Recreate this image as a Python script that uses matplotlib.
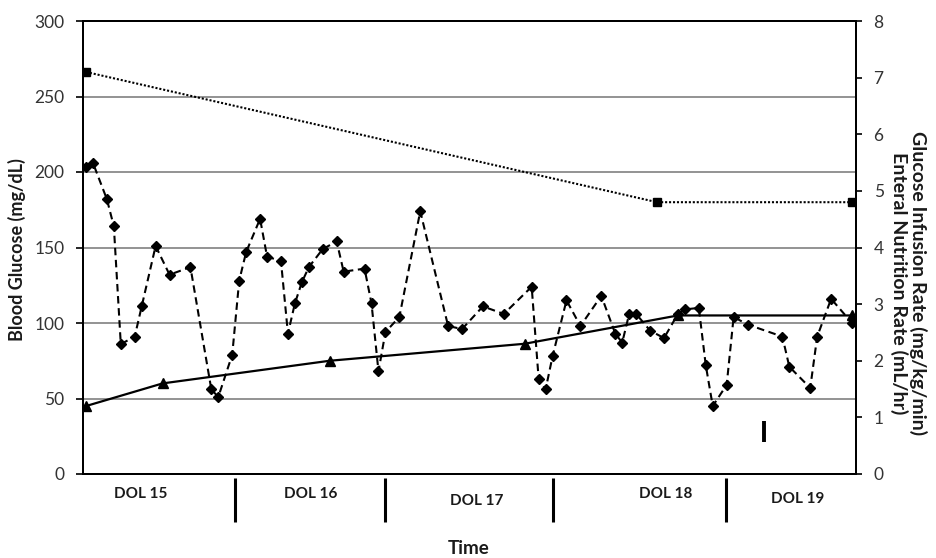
import matplotlib
matplotlib.use("Agg")
import matplotlib.pyplot as plt
import matplotlib.transforms as mtransforms

# ---------------- data ----------------
# sample (category) index along the time axis, 111 categories (0..110)
n_categories = 111
glucose_idx = [0, 1, 3, 4, 5, 7, 8, 10, 12, 15, 18, 19, 21, 22, 23, 25, 26, 28, 29, 30,
               31, 32, 34, 36, 37, 40, 41, 42, 43, 45, 48, 52, 54, 57, 60, 64, 65, 66, 67, 69,
               71, 74, 76, 77, 78, 79, 81, 83, 85, 86, 88, 89, 90, 92, 93, 95, 100, 101, 104, 105,
               107, 110]
glucose_val = [203, 206, 182, 164, 86, 91, 111, 151, 132, 137, 56, 51, 79, 128, 147, 169, 144, 141, 93, 113,
               127, 137, 149, 154, 134, 136, 113, 68, 94, 104, 174, 98, 96, 111, 106, 124, 63, 56, 78, 115,
               98, 118, 93, 87, 106, 106, 95, 90, 106, 109, 110, 72, 45, 59, 104, 99, 91, 71, 57, 91,
               116, 100]

enteral_idx = [0, 11, 35, 63, 85, 110]
enteral_val = [1.2, 1.6, 2.0, 2.3, 2.8, 2.8]

gir_idx = [0, 82, 110]
gir_val = [7.1, 4.8, 4.8]

day_labels = ["DOL 15", "DOL 16", "DOL 17", "DOL 18", "DOL 19"]
day_label_center = [7.8, 32.2, 56.1, 83.2, 102.2]
day_label_drop = [0.0, 0.0, 0.016, 0.0, 0.012]
day_boundaries = [21.4, 43.0, 67.1, 91.9]

stray_mark_x = 97.3
stray_mark_y = [21.5, 35.3]

left_ticks = [0, 50, 100, 150, 200, 250, 300]
right_ticks = [0, 1, 2, 3, 4, 5, 6, 7, 8]

# ---------------- style ----------------
FONT = ["Lato", "DejaVu Sans"]
plt.rcParams["font.family"] = FONT
TICK_COLOR = "#333333"
W, H = 936, 558

fig = plt.figure(figsize=(9.36, 5.58), dpi=100)
ax = fig.add_axes([82.5 / W, 1 - 474 / H, (855.5 - 82.5) / W, (474 - 21) / H])
ax2 = ax.twinx()

ax.set_xlim(-0.5, n_categories - 0.5)
ax.set_ylim(0, 300)
ax2.set_ylim(0, 8)

ax.set_yticks(left_ticks)
ax2.set_yticks(right_ticks)
ax.set_xticks([])

for a in (ax, ax2):
    for s in a.spines.values():
        s.set_color("black")
        s.set_linewidth(1.4)

ax.tick_params(axis="y", direction="out", length=5, width=1.2, pad=8,
               labelsize=12.5, labelcolor=TICK_COLOR)
ax2.tick_params(axis="y", direction="out", length=4, width=1.2, pad=9,
                labelsize=12.5, labelcolor=TICK_COLOR)

ax.set_axisbelow(True)
ax.yaxis.grid(True, color="#8a8a8a", linewidth=1.3)

# Blood glucose (dashed, diamonds)
ax.plot(glucose_idx, glucose_val, color="black", linewidth=1.5, linestyle=(0, (3.6, 2.2)),
        marker="D", markersize=5.2, zorder=4)

# Enteral nutrition (solid, triangles)
ax2.plot(enteral_idx, enteral_val, color="black", linewidth=1.6, linestyle="-",
         marker="^", markersize=6.5, zorder=4)

# Glucose infusion rate (dotted, square markers)
ax2.plot(gir_idx, gir_val, color="black", linewidth=1.5, linestyle=(0, (1, 0.9)),
         marker="s", markersize=5.5, zorder=4)

# stray vertical mark inside plot area
ax.plot([stray_mark_x, stray_mark_x], stray_mark_y, color="black", linewidth=2.8,
        solid_capstyle="butt", zorder=3)

# Day separators and labels beneath axis
trans = mtransforms.blended_transform_factory(ax.transData, ax.transAxes)
for b in day_boundaries:
    ax.plot([b, b], [-0.009, -0.106], transform=trans, color="black", linewidth=2.2,
            clip_on=False, solid_capstyle="butt")
for lab, c, d in zip(day_labels, day_label_center, day_label_drop):
    ax.text(c, -0.044 - d, lab, transform=trans, ha="center", va="center",
            fontsize=11, fontweight="bold", color="#1a1a1a")

# Axis titles
fig.text(469 / W, 1 - 548 / H, "Time", ha="center", va="center",
         fontsize=13.5, fontweight="bold", color="#1a1a1a")
fig.text(17 / W, 1 - 250 / H, "Blood Glucose (mg/dL)", ha="center", va="center",
         rotation=90, fontsize=13, fontweight="bold", color="#1a1a1a")
fig.text(908.5 / W, 1 - 283 / H,
         "Glucose Infusion Rate (mg/kg/min)\nEnteral Nutrition Rate (mL/hr)",
         ha="center", va="center", rotation=270, multialignment="center",
         fontsize=14, fontweight="bold", color="#1a1a1a", linespacing=1.1)

fig.savefig("out.png", dpi=100)
